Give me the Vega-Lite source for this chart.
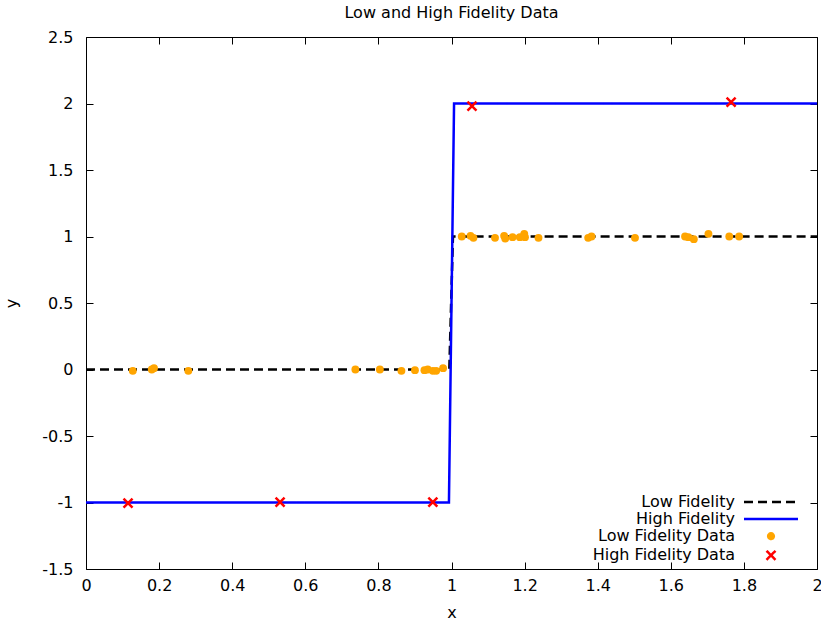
{
  "$schema": "https://vega.github.io/schema/vega-lite/v6.json",
  "width": 731,
  "height": 532,
  "autosize": {"type": "none"},
  "padding": {"left": 86, "top": 37, "right": 4, "bottom": 55},
  "background": "white",
  "title": {"text": "Low and High Fidelity Data", "fontSize": 16, "fontWeight": "normal", "font": "DejaVu Sans", "color": "#000", "baseline": "bottom", "offset": -8, "anchor": "middle", "frame": "group"},
  "config": {
    "view": {"stroke": "#000", "strokeWidth": 1},
    "font": "DejaVu Sans",
    "axis": {"labelFont": "DejaVu Sans", "labelFontSize": 16, "labelColor": "#000", "titleFont": "DejaVu Sans", "titleFontSize": 16, "titleFontWeight": "normal", "titleColor": "#000", "domain": false, "grid": false, "tickColor": "#000", "tickWidth": 1, "tickSize": -7}
  },
  "datasets": {
    "lines": [
      {"x": 0, "y": 0, "series": "Low Fidelity"},
      {"x": 0.994, "y": 0, "series": "Low Fidelity"},
      {"x": 1.004, "y": 1, "series": "Low Fidelity"},
      {"x": 2, "y": 1, "series": "Low Fidelity"},
      {"x": 0, "y": -1, "series": "High Fidelity"},
      {"x": 0.993, "y": -1, "series": "High Fidelity"},
      {"x": 1.007, "y": 2, "series": "High Fidelity"},
      {"x": 2, "y": 2, "series": "High Fidelity"}
    ],
    "low": [
      {"x": 0.128, "y": -0.01, "series": "Low Fidelity Data"},
      {"x": 0.18, "y": 0.0, "series": "Low Fidelity Data"},
      {"x": 0.186, "y": 0.01, "series": "Low Fidelity Data"},
      {"x": 0.28, "y": -0.01, "series": "Low Fidelity Data"},
      {"x": 0.737, "y": 0.0, "series": "Low Fidelity Data"},
      {"x": 0.804, "y": 0.0, "series": "Low Fidelity Data"},
      {"x": 0.863, "y": -0.01, "series": "Low Fidelity Data"},
      {"x": 0.9, "y": -0.005, "series": "Low Fidelity Data"},
      {"x": 0.926, "y": -0.005, "series": "Low Fidelity Data"},
      {"x": 0.935, "y": 0.0, "series": "Low Fidelity Data"},
      {"x": 0.949, "y": -0.01, "series": "Low Fidelity Data"},
      {"x": 0.958, "y": -0.01, "series": "Low Fidelity Data"},
      {"x": 0.977, "y": 0.01, "series": "Low Fidelity Data"},
      {"x": 1.028, "y": 1.0, "series": "Low Fidelity Data"},
      {"x": 1.052, "y": 1.005, "series": "Low Fidelity Data"},
      {"x": 1.06, "y": 0.99, "series": "Low Fidelity Data"},
      {"x": 1.119, "y": 0.99, "series": "Low Fidelity Data"},
      {"x": 1.144, "y": 1.005, "series": "Low Fidelity Data"},
      {"x": 1.147, "y": 0.985, "series": "Low Fidelity Data"},
      {"x": 1.167, "y": 0.995, "series": "Low Fidelity Data"},
      {"x": 1.187, "y": 0.995, "series": "Low Fidelity Data"},
      {"x": 1.199, "y": 1.02, "series": "Low Fidelity Data"},
      {"x": 1.201, "y": 0.995, "series": "Low Fidelity Data"},
      {"x": 1.238, "y": 0.99, "series": "Low Fidelity Data"},
      {"x": 1.374, "y": 0.99, "series": "Low Fidelity Data"},
      {"x": 1.383, "y": 1.0, "series": "Low Fidelity Data"},
      {"x": 1.502, "y": 0.99, "series": "Low Fidelity Data"},
      {"x": 1.639, "y": 1.0, "series": "Low Fidelity Data"},
      {"x": 1.648, "y": 0.995, "series": "Low Fidelity Data"},
      {"x": 1.663, "y": 0.98, "series": "Low Fidelity Data"},
      {"x": 1.703, "y": 1.02, "series": "Low Fidelity Data"},
      {"x": 1.76, "y": 1.0, "series": "Low Fidelity Data"},
      {"x": 1.787, "y": 1.0, "series": "Low Fidelity Data"}
    ],
    "high": [
      {"x": 0.115, "y": -1.005, "series": "High Fidelity Data"},
      {"x": 0.531, "y": -0.997, "series": "High Fidelity Data"},
      {"x": 0.949, "y": -0.997, "series": "High Fidelity Data"},
      {"x": 1.056, "y": 1.98, "series": "High Fidelity Data"},
      {"x": 1.765, "y": 2.01, "series": "High Fidelity Data"}
    ]
  },
  "layer": [
    {
      "data": {"name": "lines"},
      "mark": {"type": "line", "strokeWidth": 2.5},
      "encoding": {
        "x": {"field": "x", "type": "quantitative", "scale": {"domain": [0, 2], "nice": false, "zero": false},
          "axis": {"orient": "bottom", "title": "x", "values": [0, 0.2, 0.4, 0.6, 0.8, 1, 1.2, 1.4, 1.6, 1.8, 2], "labelExpr": "'' + datum.value", "labelPadding": 15, "titlePadding": 11, "labelFlush": false, "labelOverlap": false}},
        "y": {"field": "y", "type": "quantitative", "scale": {"domain": [-1.5, 2.5], "nice": false, "zero": false},
          "axis": {"orient": "left", "title": "y", "values": [-1.5, -1, -0.5, 0, 0.5, 1, 1.5, 2, 2.5], "labelExpr": "'' + datum.value", "labelPadding": 20, "titlePadding": 22, "labelFlush": false, "labelOverlap": false}},
        "color": {"field": "series", "type": "nominal",
          "scale": {"domain": ["Low Fidelity", "High Fidelity", "Low Fidelity Data", "High Fidelity Data"], "range": ["#000000", "#0000ff", "#ffa500", "#ff0000"]},
          "legend": {
            "orient": "none", "legendX": 677, "legendY": 457, "title": null, "padding": 0,
            "labelAlign": "right", "labelOffset": -44, "labelFont": "DejaVu Sans", "labelFontSize": 16, "labelColor": "#000", "labelLimit": 300,
            "symbolSize": 81, "symbolStrokeWidth": 2.5, "rowPadding": 1.1,
            "encode": {"symbols": {"update": {
              "shape": {"signal": "datum.value === 'High Fidelity Data' ? 'M-1,-1L1,1M-1,1L1,-1' : (datum.value === 'Low Fidelity Data' ? 'circle' : 'M-6,0H6')"},
              "size": {"signal": "datum.value === 'Low Fidelity Data' ? 32 : 81"},
              "fill": {"signal": "datum.value === 'Low Fidelity Data' ? '#ffa500' : 'transparent'"},
              "strokeDash": {"signal": "datum.value === 'Low Fidelity' ? [9, 5] : [1, 0]"},
              "strokeWidth": {"value": 2.5},
              "opacity": {"value": 1}
            }}}
          }},
        "strokeDash": {"field": "series", "type": "nominal", "scale": {"domain": ["Low Fidelity", "High Fidelity"], "range": [[9, 5], [1, 0]]}, "legend": null}
      }
    },
    {
      "data": {"name": "low"},
      "mark": {"type": "circle", "size": 62, "opacity": 1},
      "encoding": {
        "x": {"field": "x", "type": "quantitative", "axis": null},
        "y": {"field": "y", "type": "quantitative", "axis": null},
        "color": {"field": "series", "type": "nominal", "legend": null}
      }
    },
    {
      "data": {"name": "high"},
      "mark": {"type": "point", "shape": "M-1,-1L1,1M-1,1L1,-1", "size": 81, "strokeWidth": 2.5, "filled": false, "opacity": 1},
      "encoding": {
        "x": {"field": "x", "type": "quantitative", "axis": {"orient": "top", "title": null, "labels": false, "values": [0, 0.2, 0.4, 0.6, 0.8, 1, 1.2, 1.4, 1.6, 1.8, 2]}},
        "y": {"field": "y", "type": "quantitative", "axis": {"orient": "right", "title": null, "labels": false, "values": [-1.5, -1, -0.5, 0, 0.5, 1, 1.5, 2, 2.5]}},
        "color": {"field": "series", "type": "nominal", "legend": null}
      }
    }
  ],
  "resolve": {"axis": {"x": "independent", "y": "independent"}}
}
